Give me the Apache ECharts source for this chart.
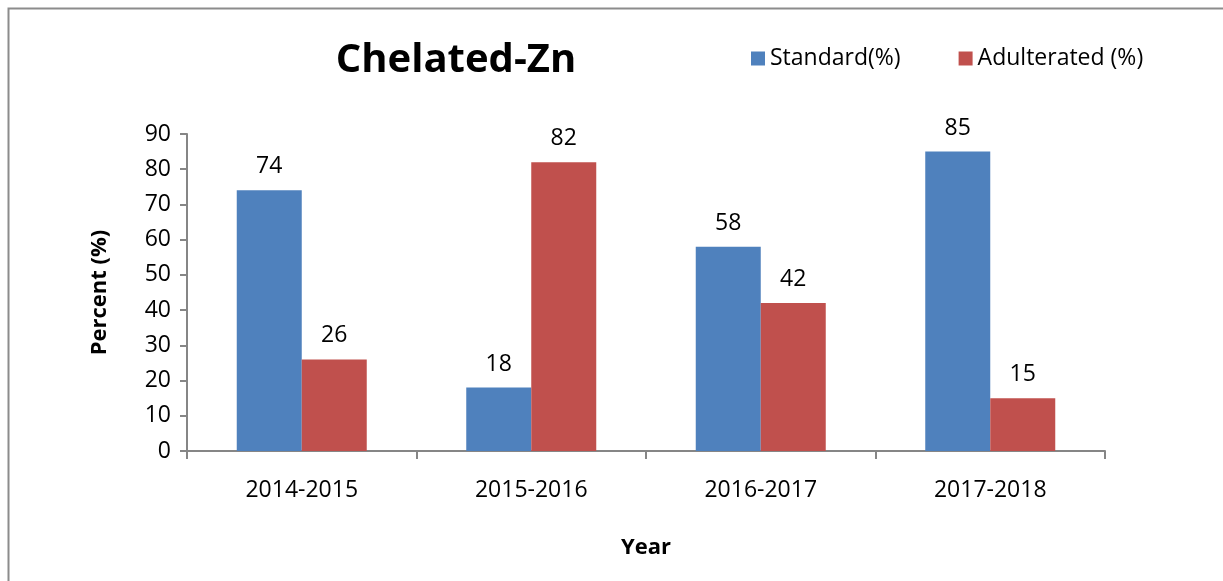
<!DOCTYPE html>
<html>
<head>
<meta charset="utf-8">
<script src="https://cdn.jsdelivr.net/npm/echarts@6/dist/echarts.min.js"></script>
<style>
  html, body { margin: 0; padding: 0; background: #fff; }
  #chart { width: 1223px; height: 581px; }
</style>
</head>
<body>
<div id="chart"></div>
<script>
const years = ['2014-2015', '2015-2016', '2016-2017', '2017-2018']
const standard = [74, 18, 58, 85]
const adulterated = [26, 82, 42, 15]
const yTicks = [0, 10, 20, 30, 40, 50, 60, 70, 80, 90]

const font = '"Open Sans", "Noto Sans", sans-serif'
const axisGray = '#868686'

const chart = echarts.init(document.getElementById('chart'))

const labelStyle = {
  show: true,
  position: 'top',
  distance: 12,
  color: '#000',
  fontSize: 23,
  fontFamily: font
}

chart.setOption({
  backgroundColor: '#fff',
  animation: false,
  graphic: [{
    type: 'rect',
    shape: { x: 8.5, y: 8.5, width: 1300, height: 700 },
    style: { fill: 'none', stroke: '#8c8c8c', lineWidth: 2 },
    silent: true
  }],
  title: {
    text: 'Chelated-Zn',
    left: 451,
    top: 36,
    textAlign: 'center',
    textStyle: { fontSize: 40, fontWeight: 'bold', color: '#000', fontFamily: font }
  },
  legend: {
    left: 746,
    top: 42,
    itemWidth: 14,
    itemHeight: 14,
    itemGap: 58,
    icon: 'rect',
    textStyle: { fontSize: 23, color: '#000', fontFamily: font },
    data: ['Standard(%)', 'Adulterated (%)']
  },
  grid: { left: 187, right: 118, top: 134, bottom: 130 },
  xAxis: {
    type: 'category',
    data: years,
    name: 'Year',
    nameLocation: 'middle',
    nameGap: 86,
    nameTextStyle: { fontSize: 22, fontWeight: 'bold', color: '#000', fontFamily: font },
    axisLine: { lineStyle: { color: axisGray, width: 2 } },
    axisTick: { show: true, length: 8, lineStyle: { color: axisGray, width: 2 } },
    axisLabel: { fontSize: 23, color: '#000', margin: 28, fontFamily: font },
  },
  yAxis: {
    type: 'value',
    min: yTicks[0],
    max: yTicks[yTicks.length - 1],
    interval: 10,
    name: 'Percent (%)',
    nameLocation: 'middle',
    nameGap: 76,
    nameRotate: 90,
    nameTextStyle: { fontSize: 22, fontWeight: 'bold', color: '#000', fontFamily: font },
    axisLine: { show: true, lineStyle: { color: axisGray, width: 2 } },
    axisTick: { show: true, length: 7, lineStyle: { color: axisGray, width: 2 } },
    axisLabel: { fontSize: 23, color: '#000', margin: 16, fontFamily: font },
    splitLine: { show: false }
  },
  series: [{
    name: 'Standard(%)',
    type: 'bar',
    barWidth: 65,
    barGap: '0%',
    itemStyle: { color: '#4F81BD' },
    label: labelStyle,
    data: standard
  }, {
    name: 'Adulterated (%)',
    type: 'bar',
    barWidth: 65,
    barGap: '0%',
    itemStyle: { color: '#C0504D' },
    label: labelStyle,
    data: adulterated
  }]
})
</script>
</body>
</html>
